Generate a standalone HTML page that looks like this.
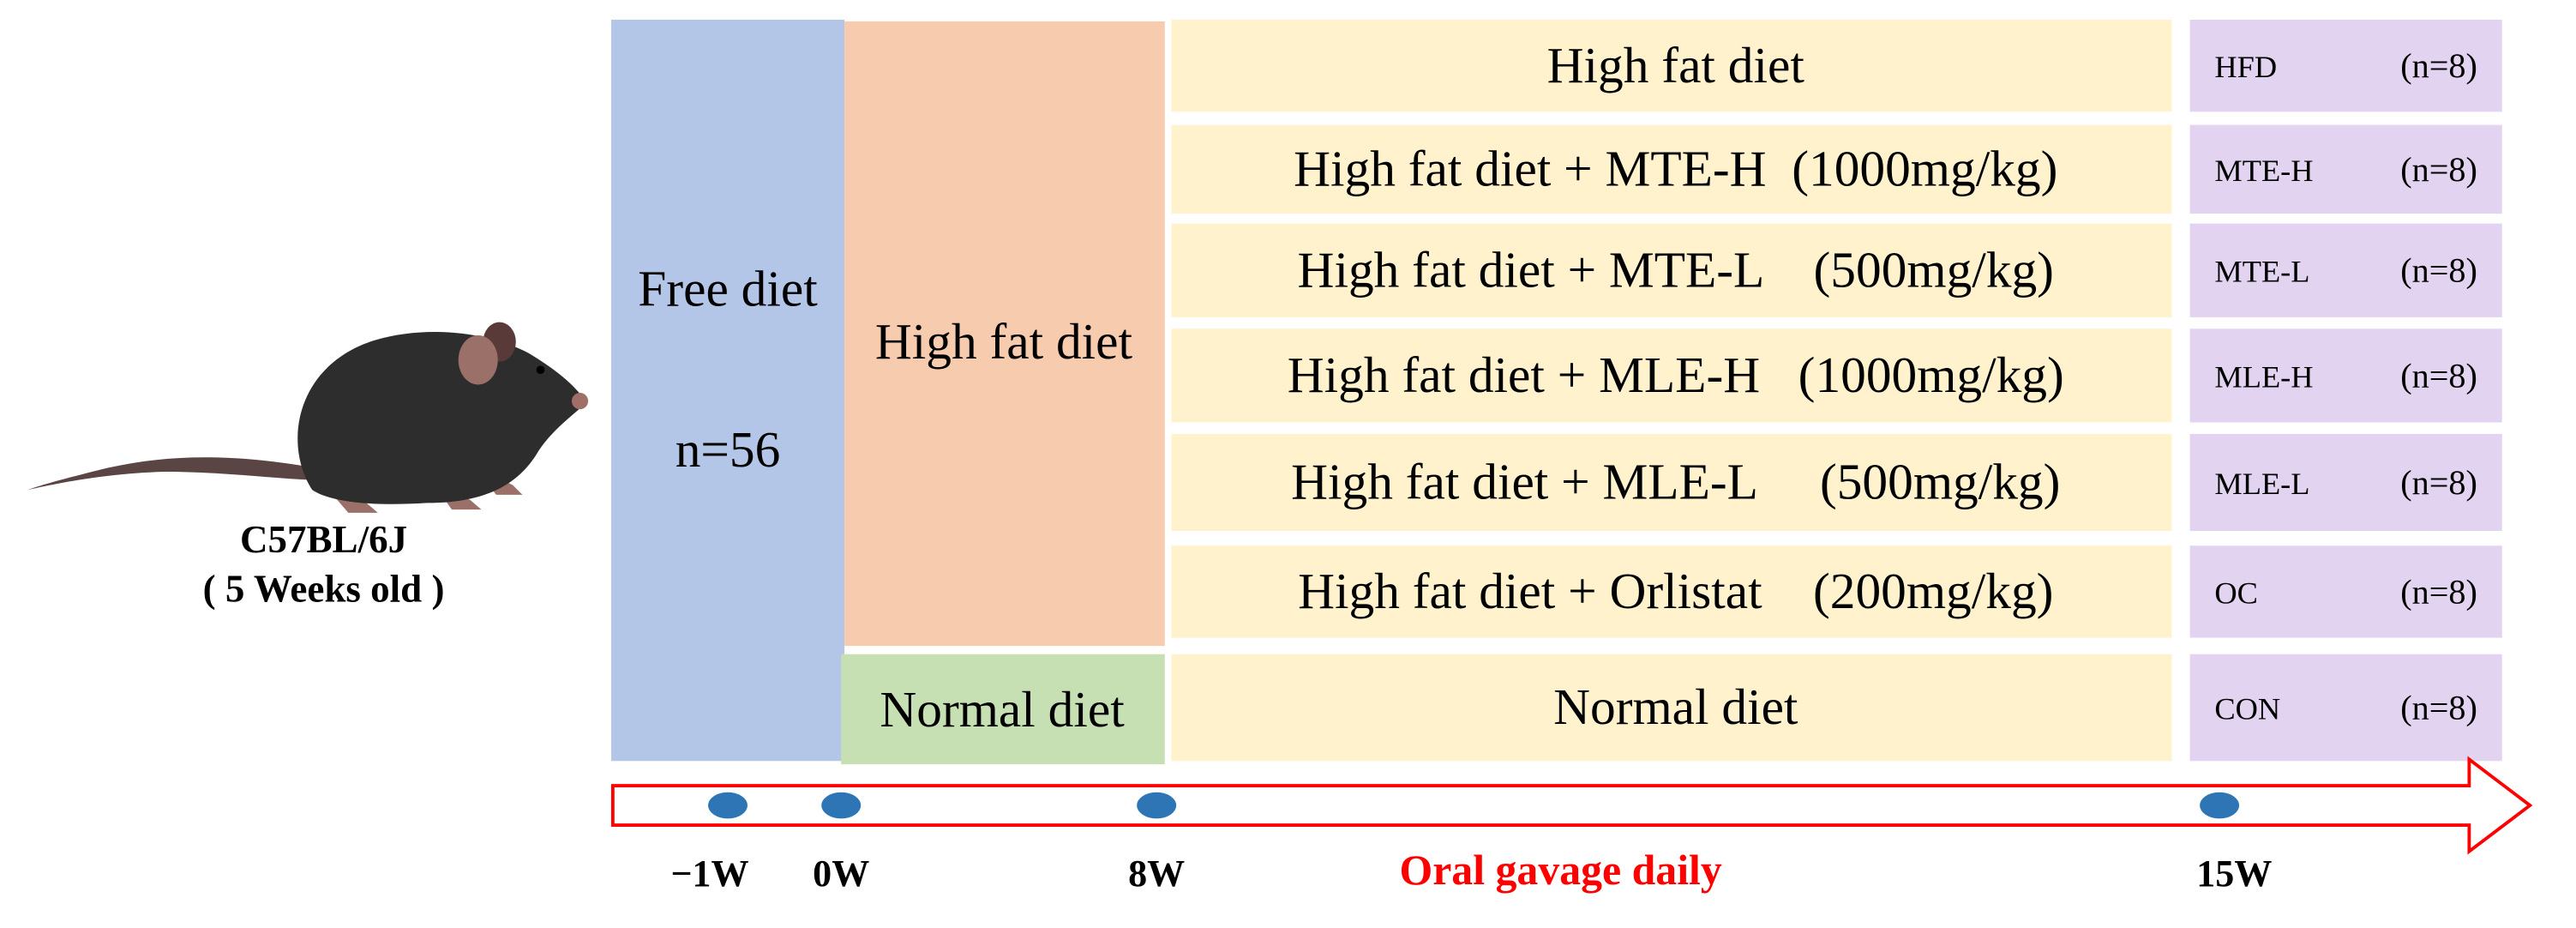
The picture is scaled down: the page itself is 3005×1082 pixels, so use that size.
<!DOCTYPE html>
<html><head><meta charset="utf-8"><style>
html,body{margin:0;padding:0;background:#fff;}
svg{display:block;font-family:"Liberation Serif","Times New Roman",serif;}
</style></head><body>
<svg id="chart" width="3005" height="1082" viewBox="0 0 1568 564.6" xmlns="http://www.w3.org/2000/svg">
<g>
  <path d="M188,284 C140,276 100,276 60,286 C40,291 25,295 17,298 C35,294 65,288 100,287 C135,287 165,291 190,292 Z" fill="#5a4444"/>
  <path d="M200,298 l12,14 h18 l-7,-6 z M265,296 l10,14 h18 l-7,-6 z M290,285 l12,16 h16 l-6,-6 z" fill="#9a7068"/>
  <path d="M190,298 C172,270 180,222 228,207 C262,197 300,203 322,215 C342,227 352,237 357,245 C347,254 336,262 328,274 C316,295 295,306 260,306 C228,308 202,306 190,298 Z" fill="#2d2d2d"/>
  <circle cx="353" cy="244" r="5" fill="#a07068"/>
  <circle cx="329" cy="225" r="2.5" fill="#000"/>
  <ellipse cx="304" cy="208" rx="10" ry="12" fill="#5a3a38"/>
  <ellipse cx="291" cy="219" rx="12" ry="15" fill="#9a7068"/>
</g>
<text x="197" y="336" text-anchor="middle" font-size="23.5" font-weight="bold">C57BL/6J</text>
<text x="197" y="366" text-anchor="middle" font-size="23.5" font-weight="bold">( 5 Weeks old )</text>

<rect x="372" y="12" width="142" height="451" fill="#b4c6e7"/>
<text x="443" y="186" text-anchor="middle" font-size="31">Free diet</text>
<text x="443" y="284" text-anchor="middle" font-size="31">n=56</text>
<rect x="514" y="13" width="195" height="380" fill="#f7cbad"/>
<text x="611" y="218" text-anchor="middle" font-size="31">High fat diet</text>
<rect x="512" y="398" width="197" height="67" fill="#c6e0b4"/>
<text x="610" y="442" text-anchor="middle" font-size="31">Normal diet</text>
<g id="rows"></g>
<g id="timeline">
  <path d="M373,478 H1503 V462 L1540,490 L1503,518 V502 H373 Z" fill="none" stroke="#ff0000" stroke-width="2"/>
</g>
<text x="950" y="538" text-anchor="middle" font-size="26" font-weight="bold" fill="#ff0000">Oral gavage daily</text>
<script>
const treatments = ["High fat diet","High fat diet + MTE-H  (1000mg/kg)","High fat diet + MTE-L    (500mg/kg)","High fat diet + MLE-H   (1000mg/kg)","High fat diet + MLE-L     (500mg/kg)","High fat diet + Orlistat    (200mg/kg)","Normal diet"];
const groups = ["HFD","MTE-H","MTE-L","MLE-H","MLE-L","OC","CON"];
const groupN = [8,8,8,8,8,8,8];
const rowTops = [12,76,136,200,264,332,398];
const rowBottoms = [68,130,193,257,323,388,463];
const weeks = [-1,0,8,15];
const weekLabels = ["\u22121W","0W","8W","15W"];
const NS="http://www.w3.org/2000/svg";
function wxs(w){ if(w<=0) return 443+(w+1)*69; if(w<=8) return 512+w*24; return 704+(w-8)*(1351-704)/7; }
const rows=document.getElementById('rows');
treatments.forEach((t,i)=>{
  const y0=rowTops[i], h=rowBottoms[i]-rowTops[i], cy=y0+h/2+10;
  const r=document.createElementNS(NS,'rect');
  
  
  r.setAttribute('x',713);r.setAttribute('y',y0);r.setAttribute('width',609);r.setAttribute('height',h);r.setAttribute('fill','#fff2cc');
  rows.appendChild(r);
  const tx=document.createElementNS(NS,'text');
  
  
  tx.setAttribute('x',1020);tx.setAttribute('y',cy);tx.setAttribute('text-anchor','middle');tx.setAttribute('font-size','31');tx.style.whiteSpace='pre';
  tx.textContent=t;rows.appendChild(tx);
  const p=document.createElementNS(NS,'rect');
  
  
  p.setAttribute('x',1333);p.setAttribute('y',y0);p.setAttribute('width',190);p.setAttribute('height',h);p.setAttribute('fill','#e2d3f0');
  rows.appendChild(p);
  const g=document.createElementNS(NS,'text');
  
  
  g.setAttribute('x',1348);g.setAttribute('y',cy-3);g.setAttribute('font-size','19');g.textContent=groups[i];rows.appendChild(g);
  const n=document.createElementNS(NS,'text');
  
  
  n.setAttribute('x',1508);n.setAttribute('y',cy-3);n.setAttribute('text-anchor','end');n.setAttribute('font-size','21');n.textContent='(n='+groupN[i]+')';rows.appendChild(n);
});
const tl=document.getElementById('timeline');
weeks.forEach((w,i)=>{
  const x=wxs(w);
  const e=document.createElementNS(NS,'ellipse');
  
  
  e.setAttribute('cx',x);e.setAttribute('cy',490);e.setAttribute('rx',12);e.setAttribute('ry',8);e.setAttribute('fill','#2e75b6');
  tl.appendChild(e);
  const t=document.createElementNS(NS,'text');
  
  
  t.setAttribute('x',x+(w<0?-11:(w>8?9:0)));t.setAttribute('y',539);t.setAttribute('text-anchor','middle');t.setAttribute('font-size','23');t.setAttribute('font-weight','bold');
  t.textContent=weekLabels[i];tl.appendChild(t);
});
</script>
</svg>
</body></html>
